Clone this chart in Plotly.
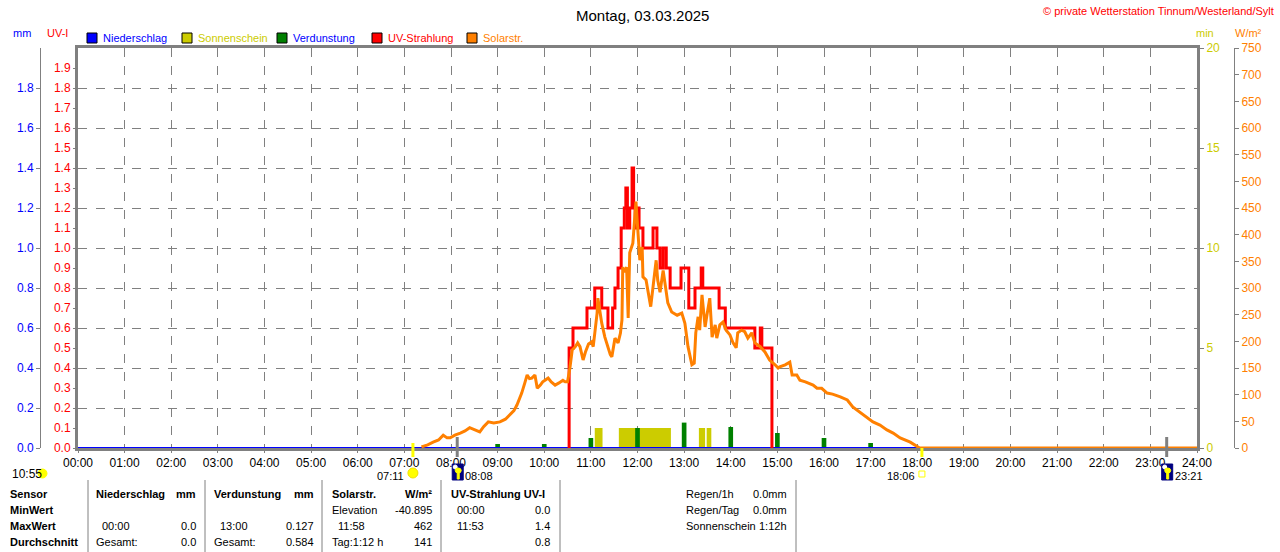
import plotly.graph_objects as go

W, H = 1280, 552

# --- Daten ---
stunden = list(range(25))
stunden_text = [f"{s:02d}:00" for s in stunden]

# UV-Strahlung (UV-I), Treppenkurve
uv_zeit = ["10:32", "10:32", "10:37", "10:55", "11:05", "11:14", "11:22", "11:28", "11:31",
           "11:35", "11:39", "11:43", "11:45", "11:47", "11:50", "11:53", "11:55", "11:57",
           "11:59", "12:02", "12:07", "12:20", "12:25", "12:29", "12:33", "12:37", "12:42",
           "12:56", "13:06", "13:14", "13:22", "13:24", "13:45", "13:53", "14:31", "14:38",
           "14:40", "14:53", "14:53"]
uv_wert = [0.0, 0.5, 0.6, 0.7, 0.8, 0.7, 0.6, 0.7, 0.8,
           0.9, 1.1, 1.2, 1.3, 1.1, 1.2, 1.4, 1.2, 1.1,
           1.2, 1.1, 1.0, 1.1, 1.0, 0.9, 1.0, 0.9, 0.8,
           0.9, 0.7, 0.8, 0.9, 0.8, 0.7, 0.6, 0.5, 0.6,
           0.5, 0.5, 0.0]

# Solarstrahlung (W/m²)
solar_zeit = ["07:22", "07:30", "07:37", "07:44", "07:50", "07:55", "07:59", "08:05", "08:12",
              "08:18", "08:24", "08:30", "08:37", "08:42", "08:48", "08:55", "09:03", "09:10",
              "09:16", "09:21", "09:25", "09:28", "09:31", "09:35", "09:38", "09:41", "09:44",
              "09:48", "09:51", "09:55", "09:58", "10:02", "10:05", "10:09", "10:14", "10:19",
              "10:24", "10:27", "10:30", "10:33", "10:36", "10:40", "10:43", "10:46", "10:50",
              "10:53", "10:57", "11:01", "11:03", "11:05", "11:08", "11:09", "11:11", "11:14",
              "11:18", "11:22", "11:25", "11:27", "11:31", "11:35", "11:38", "11:40", "11:41",
              "11:43", "11:46", "11:48", "11:50", "11:54", "11:57", "11:58", "12:01", "12:03",
              "12:06", "12:07", "12:11", "12:14", "12:17", "12:20", "12:24", "12:26", "12:29",
              "12:33", "12:37", "12:39", "12:44", "12:51", "12:57", "13:01", "13:05", "13:10",
              "13:13", "13:15", "13:18", "13:20", "13:23", "13:27", "13:29", "13:33", "13:36",
              "13:40", "13:42", "13:46", "13:50", "13:54", "13:59", "14:03", "14:07", "14:09",
              "14:14", "14:18", "14:22", "14:27", "14:31", "14:38", "14:44", "14:50", "14:57",
              "15:01", "15:03", "15:10", "15:16", "15:19", "15:25", "15:29", "15:36", "15:39",
              "15:46", "15:51", "15:57", "16:04", "16:11", "16:21", "16:30", "16:37", "16:46",
              "16:55", "17:03", "17:12", "17:21", "17:29", "17:38", "17:51", "18:00", "18:03",
              "24:00"]
solar_wert = [2, 6, 11, 15, 24, 19, 19, 24, 28,
              32, 38, 34, 30, 40, 49, 47, 49, 54,
              62, 70, 81, 92, 103, 122, 137, 130, 131,
              137, 112, 118, 124, 128, 131, 124, 118, 122,
              127, 124, 124, 150, 184, 190, 197, 190, 165,
              180, 195, 199, 190, 215, 253, 281, 262, 234,
              208, 190, 175, 171, 206, 197, 215, 240, 339,
              330, 339, 244, 366, 384, 440, 462, 396, 352,
              377, 321, 315, 290, 265, 302, 352, 315, 292,
              333, 290, 272, 255, 249, 253, 234, 190, 156,
              159, 216, 246, 221, 287, 227, 246, 281, 208,
              231, 206, 231, 236, 221, 212, 197, 188, 216,
              221, 218, 206, 216, 197, 190, 180, 165, 156,
              150, 152, 156, 161, 137, 137, 127, 124, 122,
              118, 112, 112, 103, 101, 96, 90, 77, 67,
              58, 49, 43, 34, 28, 19, 11, 2, 0,
              0]

# Verdunstung (mm) je Stunde
verd_zeit = ["09:00", "10:00", "11:00", "12:00", "13:00", "14:00", "15:00", "16:00", "17:00"]
verd_wert = [0.02, 0.02, 0.05, 0.10, 0.127, 0.105, 0.075, 0.05, 0.025]

# Sonnenschein (min), Intervalle
sonne_von = ["11:05", "11:36", "13:19", "13:29"]
sonne_bis = ["11:15", "12:43", "13:27", "13:35"]
sonne_wert = [1, 1, 1, 1]

# Niederschlag (mm)
regen_zeit = ["00:00", "24:00"]
regen_wert = [0.0, 0.0]

# Sonnen- und Mondzeiten
sonnenaufgang, sonnenuntergang = "07:11", "18:06"
mondaufgang, monduntergang = "08:08", "23:21"
tageslaenge = "10:55"

# Tabelle unten
kopf = ["Niederschlag", "Verdunstung", "Solarstr.", "UV-Strahlung UV-I"]
einheiten = ["mm", "mm", "W/m²", ""]
zeilen = ["Sensor", "MinWert", "MaxWert", "Durchschnitt"]
spalte_zeit = [["", "00:00", "Gesamt:"], ["", "13:00", "Gesamt:"],
               ["Elevation", "11:58", "Tag:1:12 h"], ["00:00", "11:53", ""]]
spalte_wert = [["", "0.0", "0.0"], ["", "0.127", "0.584"],
               ["-40.895", "462", "141"], ["0.0", "1.4", "0.8"]]
regen_info = ["Regen/1h", "Regen/Tag", "Sonnenschein"]
regen_info_wert = ["0.0mm", "0.0mm", "1:12h"]

BLAU, GELB, GRUEN, ROT, ORANGE, GRAU = "#0000ff", "#cccc00", "#008000", "#ff0000", "#ff8000", "#808080"
SONNE, NACHT = "#ffff00", "#000080"


def h(t):
    hh, mm = t.split(":")
    return int(hh) + int(mm) / 60


def texte(x, y, s, couleur="black", ancre="left", taille=11, gras=False):
    """Annotation en pixels (origine en haut à gauche)."""
    if gras:
        s = f"<b>{s}</b>"
    return dict(x=x / W, y=1 - y / H, xref="paper", yref="paper", text=s, showarrow=False,
                xanchor=ancre, yanchor="middle", font=dict(size=taille, color=couleur))


def texte_t(t, y, s, couleur="black", ancre="center", decalage=0, taille=11):
    """Annotation placée sur une heure de l'axe x."""
    return dict(x=h(t), xref="x", y=1 - y / H, yref="paper", text=s, showarrow=False,
                xanchor=ancre, yanchor="middle", xshift=decalage, borderpad=0,
                font=dict(size=taille, color=couleur))


def icone(t, y, forme, x0, x1, y0, y1, fond, bord=None):
    """Petite forme en pixels autour d'une heure (x) et d'une ligne (y, pixels)."""
    return dict(type=forme, xref="x", xsizemode="pixel", xanchor=h(t), x0=x0, x1=x1,
                yref="paper", ysizemode="pixel", yanchor=1 - y / H, y0=y0, y1=y1,
                fillcolor=fond, line=dict(color=bord or fond, width=1))


def ligne_px(x0, y0, x1, y1, couleur=GRAU, largeur=1):
    return dict(type="line", xref="paper", yref="paper", x0=x0 / W, x1=x1 / W,
                y0=1 - y0 / H, y1=1 - y1 / H, line=dict(color=couleur, width=largeur))


fig = go.Figure()

# Sonnenschein (min) -> axe principal y (à droite)
debut = [h(t) for t in sonne_von]
fin = [h(t) for t in sonne_bis]
fig.add_trace(go.Bar(x=[(a + b) / 2 for a, b in zip(debut, fin)], y=sonne_wert,
                     width=[b - a for a, b in zip(debut, fin)], marker_color=GELB,
                     marker_line_width=0, yaxis="y", name="Sonnenschein"))

# Verdunstung + Niederschlag (mm)
fig.add_trace(go.Bar(x=[h(t) for t in verd_zeit], y=verd_wert, width=0.1,
                     marker_color=GRUEN, marker_line_width=0, yaxis="y2", name="Verdunstung"))
fig.add_trace(go.Scatter(x=[h(t) for t in regen_zeit], y=regen_wert, mode="lines",
                         line=dict(color=BLAU, width=2), yaxis="y2", name="Niederschlag"))

# UV-Strahlung
fig.add_trace(go.Scatter(x=[h(t) for t in uv_zeit], y=uv_wert, mode="lines", line_shape="hv",
                         line=dict(color=ROT, width=3), yaxis="y3", name="UV-Strahlung"))

# Solarstrahlung
fig.add_trace(go.Scatter(x=[h(t) for t in solar_zeit], y=solar_wert, mode="lines",
                         line=dict(color=ORANGE, width=3), yaxis="y4", name="Solarstr."))

x_dom = [78 / W, 1197 / W]
y_dom = [1 - 448 / H, 1 - 48 / H]
achse = dict(range=[0, 2], showgrid=False, zeroline=False, automargin=False,
             ticks="outside", ticklen=4, tickcolor=GRAU, tickfont=dict(size=12))

fig.update_layout(
    width=W, height=H,
    margin=dict(l=0, r=0, t=0, b=0, autoexpand=False),
    paper_bgcolor="white", plot_bgcolor="white",
    font=dict(family="Liberation Sans, Arial, sans-serif", color="black"),
    showlegend=False, barmode="overlay",
    xaxis=dict(domain=x_dom, range=[0, 24], tickvals=stunden, ticktext=stunden_text,
               showgrid=True, gridcolor=GRAU, griddash="dash", gridwidth=1,
               ticks="outside", ticklen=2, tickcolor=GRAU, tickfont=dict(size=12),
               showline=True, linecolor=GRAU, linewidth=3, mirror=True,
               zeroline=False, automargin=False),
    yaxis=dict(achse, domain=y_dom, range=[0, 20], tickvals=[0, 5, 10, 15, 20], side="right",
               tickfont=dict(size=12, color=GELB), showline=True, linecolor=GRAU,
               linewidth=3, mirror=True),
    yaxis2=dict(achse, overlaying="y", anchor="free", position=40 / W, side="left",
                tickvals=[round(0.2 * i, 1) for i in range(10)], tickformat=".1f",
                tickfont=dict(size=12, color=BLAU), showline=True, linecolor=GRAU, linewidth=1,
                showgrid=True, gridcolor=GRAU, griddash="dash", gridwidth=1),
    yaxis3=dict(achse, overlaying="y", anchor="x", side="left",
                tickvals=[round(0.1 * i, 1) for i in range(20)], tickformat=".1f",
                tickfont=dict(size=12, color=ROT)),
    yaxis4=dict(achse, overlaying="y", anchor="free", position=1234 / W, side="right",
                range=[0, 750], tickvals=list(range(0, 751, 50)),
                tickfont=dict(size=12, color=ORANGE), showline=True, linecolor=GRAU, linewidth=1),
)

annotations = [
    texte(642, 15, "Montag, 03.03.2025", taille=15, ancre="center"),
    texte(1276, 11, "© private Wetterstation Tinnum/Westerland/Sylt", ROT, "right", 11),
    texte(22, 33, "mm", BLAU, "center"),
    texte(57, 33, "UV-I", ROT, "center"),
    texte(1205, 33, "min", GELB, "center"),
    texte(1248, 33, "W/m²", ORANGE, "center"),
]
shapes = []

# Légende manuelle
legende = [("Niederschlag", BLAU, BLAU, 87), ("Sonnenschein", GELB, GELB, 182),
           ("Verdunstung", GRUEN, BLAU, 277), ("UV-Strahlung", ROT, ROT, 372),
           ("Solarstr.", ORANGE, ORANGE, 467)]
for nom, carre, couleur, x in legende:
    shapes.append(dict(type="rect", xref="paper", yref="paper", x0=x / W, x1=(x + 10) / W,
                       y0=1 - 43 / H, y1=1 - 33 / H, fillcolor=carre,
                       line=dict(color="black", width=1)))
    annotations.append(texte(x + 14, 38, nom, couleur))

# Sonne / Mond unter der x-Achse
Y_SM = 476
for t, farbe, oben in [(sonnenaufgang, SONNE, 443), (sonnenuntergang, SONNE, 448),
                       (mondaufgang, GRAU, 437), (monduntergang, GRAU, 437)]:
    shapes.append(dict(type="line", xref="x", yref="paper", x0=h(t), x1=h(t),
                       y0=1 - oben / H, y1=1 - 457 / H, line=dict(color=farbe, width=3)))
for t in [mondaufgang, monduntergang]:
    shapes.append(icone(t, 472, "rect", -5, 6, -8, 8, NACHT))
    shapes.append(icone(t, 472, "circle", -4, 0, 3, 7, "white"))
    shapes.append(icone(t, 472, "rect", 0, 2, -7, 1, SONNE))
    shapes.append(icone(t, 472, "circle", -2, 4, -1, 4, SONNE))
    annotations.append(texte_t(t, Y_SM, t, ancre="left", decalage=7))
shapes.append(icone(sonnenaufgang, 473, "circle", -5, 5, -5, 5, SONNE, "#f0e000"))
annotations.append(texte_t(sonnenaufgang, Y_SM, sonnenaufgang, ancre="right", decalage=-8))
shapes.append(icone(sonnenuntergang, 474, "rect", -3, 3, -3, 3, "white", SONNE))
annotations.append(texte_t(sonnenuntergang, Y_SM, sonnenuntergang, ancre="right", decalage=-6))
annotations.append(texte(10, 474, tageslaenge, taille=12))
shapes.append(dict(type="circle", xref="paper", yref="paper", x0=38 / W, x1=47 / W,
                   y0=1 - 478 / H, y1=1 - 469 / H, fillcolor=SONNE, line=dict(color=SONNE, width=1)))

# Tabelle
zeilen_y = [494, 510, 526, 542]
for i, z in enumerate(zeilen):
    annotations.append(texte(8, zeilen_y[i], z, gras=True))
links = [94, 212, 330, 449]
rechts = [198, 316, 434, 552]
for k in range(len(kopf)):
    annotations.append(texte(links[k], zeilen_y[0], kopf[k], gras=True))
    if einheiten[k]:
        annotations.append(texte(rechts[k], zeilen_y[0], einheiten[k], ancre="right", gras=True))
    for j in range(3):
        t = spalte_zeit[k][j]
        if t:
            einzug = 6 if t[:2].isdigit() and t[2:3] == ":" else 0
            annotations.append(texte(links[k] + einzug, zeilen_y[j + 1], t))
        if spalte_wert[k][j]:
            annotations.append(texte(rechts[k], zeilen_y[j + 1], spalte_wert[k][j], ancre="right"))
for j in range(len(regen_info)):
    annotations.append(texte(684, zeilen_y[j], regen_info[j]))
    annotations.append(texte(789, zeilen_y[j], regen_info_wert[j], ancre="right"))
for x in [88, 205, 322, 441, 560, 796]:
    shapes.append(ligne_px(x, 480, x, 552))

fig.update_layout(annotations=annotations, shapes=shapes)

# la page a une marge de 8 px par défaut : on la supprime, et pas de barre d'outils
fig.write_html("out.html", config={"displayModeBar": False},
               post_script="document.body.style.margin='0';")
